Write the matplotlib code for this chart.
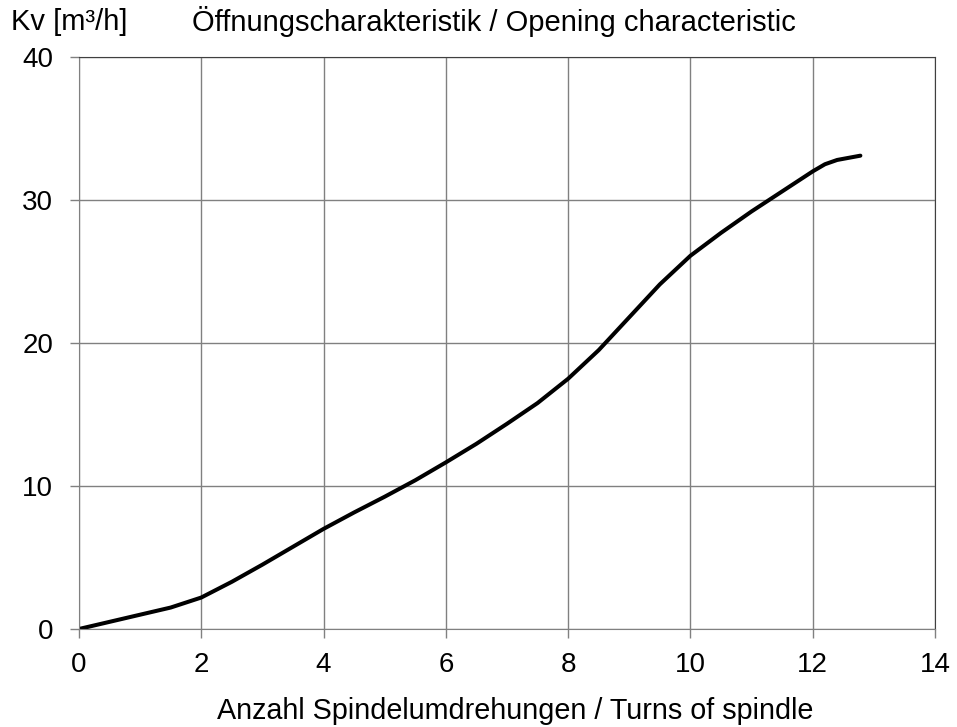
import numpy as np
import matplotlib.pyplot as plt

plt.rcParams['font.family'] = ['Liberation Sans', 'DejaVu Sans']

turns = [0, 0.5, 1, 1.5, 2, 2.5, 3, 3.5, 4, 4.5, 5, 5.5, 6, 6.5, 7, 7.5, 8,
         8.5, 9, 9.5, 10, 10.5, 11, 11.5, 12, 12.2, 12.4, 12.78]
kv = [0, 0.5, 1.0, 1.5, 2.2, 3.3, 4.5, 5.75, 7.0, 8.15, 9.25, 10.4, 11.65, 12.95,
      14.35, 15.8, 17.5, 19.5, 21.8, 24.1, 26.1, 27.7, 29.2, 30.6, 32.0, 32.5, 32.8, 33.1]

fig = plt.figure(figsize=(9.57, 7.27), dpi=100)
ax = fig.add_axes([0.0825, 0.1348, 0.8945, 0.7868])

ax.plot(turns, kv, color='black', lw=2.9, solid_capstyle='round', solid_joinstyle='round')

ax.set_xlim(0, 14)
ax.set_ylim(0, 40)
ax.set_xticks(np.arange(0, 15, 2))
ax.set_yticks(np.arange(0, 41, 10))
ax.grid(True, color='#808080', lw=1)
for side in ['left', 'bottom']:
    ax.spines[side].set_color('#808080')
for side in ['top', 'right']:
    ax.spines[side].set_color('#404040')
ax.tick_params(length=6.5, width=1, color='#808080', labelsize=20)
ax.tick_params(axis='y', pad=12)
ax.tick_params(axis='x', pad=10)

ax.set_xlabel('Anzahl Spindelumdrehungen / Turns of spindle', fontsize=20.7)
ax.xaxis.set_label_coords(0.5093, -0.119)
fig.text(0.011, 0.970, 'Kv [m³/h]', fontsize=21, va='center', ha='left')
fig.text(0.5157, 0.970, 'Öffnungscharakteristik / Opening characteristic', fontsize=21,
         va='center', ha='center')

fig.savefig('out.png', dpi=100)
